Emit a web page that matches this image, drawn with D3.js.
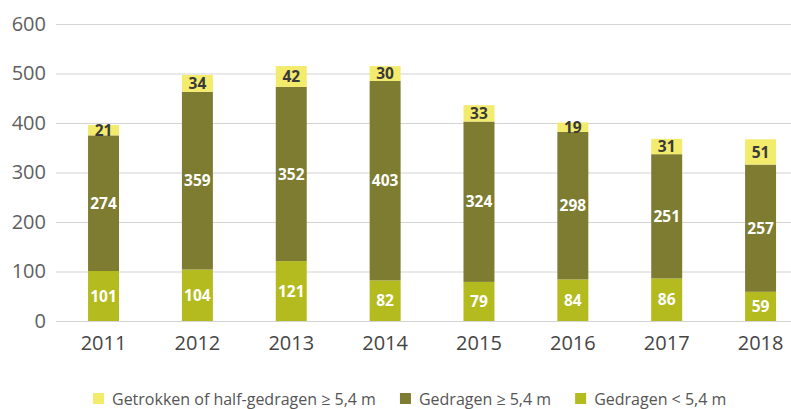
<!DOCTYPE html>
<html>
<head>
<meta charset="utf-8">
<script src="https://cdn.jsdelivr.net/npm/d3@7"></script>
<style>
  body { margin: 0; background: #fff; }
  svg { font-family: "Open Sans", sans-serif; display: block; }
</style>
</head>
<body>
<svg id="chart_svg" width="791" height="409"></svg>
<script>
var years = ["2011", "2012", "2013", "2014", "2015", "2016", "2017", "2018"];
var gedragenKort = [101, 104, 121, 82, 79, 84, 86, 59];
var gedragenLang = [274, 359, 352, 403, 324, 298, 251, 257];
var getrokken = [21, 34, 42, 30, 33, 19, 31, 51];
var yTicks = [0, 100, 200, 300, 400, 500, 600];

var seriesKeys = ["kort", "lang", "getrokken"];
var seriesNames = {
    kort: "Gedragen < 5,4 m",
    lang: "Gedragen \u2265 5,4 m",
    getrokken: "Getrokken of half-gedragen \u2265 5,4 m"
};
var colors = {kort: "#b3bb1f", lang: "#7d7c30", getrokken: "#f3eb6b"};
var labelColors = {kort: "#ffffff", lang: "#ffffff", getrokken: "#3a3a3a"};
// legend order differs from stack order
var legendKeys = ["getrokken", "lang", "kort"];

var svg = d3.select("#chart_svg");

// build rows for the stack
var rows = years.map(function (y, i) {
    return {year: y, kort: gedragenKort[i], lang: gedragenLang[i], getrokken: getrokken[i]};
});

var x = d3.scaleBand()
    .domain(years)
    .range([56.6, 807.5])
    .paddingInner(0.67)
    .paddingOuter(0.335);

var y = d3.scaleLinear()
    .domain([0, 600])
    .range([321, 24]);

// grid
svg.append("g").selectAll("line")
    .data(yTicks)
    .enter()
    .append("line")
    .attr("x1", 56)
    .attr("x2", 791)
    .attr("y1", function (d) { return y(d) + 0.5; })
    .attr("y2", function (d) { return y(d) + 0.5; })
    .attr("stroke", "#d4d4d4")
    .attr("stroke-width", 1.2);

// y axis labels
var yAxis = d3.axisLeft(y).tickValues(yTicks).tickSize(0).tickPadding(0);
var gy = svg.append("g").attr("transform", "translate(46,0)").call(yAxis);
gy.select(".domain").remove();
gy.selectAll("text")
    .attr("font-family", "Open Sans")
    .attr("font-size", 20)
    .attr("fill", "#5f5f5f");

// x axis labels
var xAxis = d3.axisBottom(x).tickSize(0).tickPadding(0);
var gx = svg.append("g").attr("transform", "translate(0,336)").call(xAxis);
gx.select(".domain").remove();
gx.selectAll("text")
    .attr("font-family", "Open Sans")
    .attr("font-size", 20)
    .attr("fill", "#454545");

var stack = d3.stack().keys(seriesKeys);
var layers = stack(rows);

var gLayer = svg.append("g").selectAll("g")
    .data(layers)
    .enter()
    .append("g")
    .attr("fill", function (d) { return colors[d.key]; });

gLayer.selectAll("rect")
    .data(function (d) { return d; })
    .enter()
    .append("rect")
    .attr("x", function (d) { return x(d.data.year); })
    .attr("y", function (d) { return y(d[1]); })
    .attr("width", x.bandwidth())
    .attr("height", function (d) { return y(d[0]) - y(d[1]); });

// value labels
layers.forEach(function (layer) {
    svg.append("g").selectAll("text")
        .data(layer)
        .enter()
        .append("text")
        .attr("x", function (d) { return x(d.data.year) + x.bandwidth() / 2; })
        .attr("y", function (d) { return (y(d[0]) + y(d[1])) / 2; })
        .attr("dy", "0.36em")
        .attr("text-anchor", "middle")
        .attr("font-size", 15.5)
        .attr("font-weight", "bold")
        .attr("fill", labelColors[layer.key])
        .text(function (d) { return d.data[layer.key]; });
});

// legend
var gLegend = svg.append("g");
var lx = 93;
legendKeys.forEach(function (k) {
    gLegend.append("rect")
        .attr("x", lx)
        .attr("y", 393)
        .attr("width", 11)
        .attr("height", 11)
        .attr("fill", colors[k]);
    var t = gLegend.append("text")
        .attr("x", lx + 19)
        .attr("y", 404.5)
        .attr("font-size", 16)
        .attr("fill", "#555555")
        .text(seriesNames[k]);
    lx = lx + 19 + t.node().getComputedTextLength() + 24;
});
</script>
</body>
</html>
